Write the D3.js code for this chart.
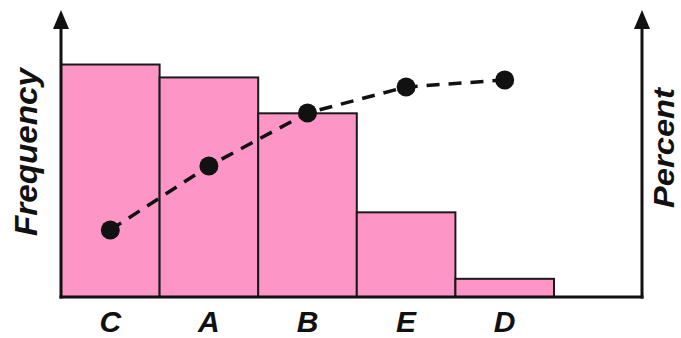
<!DOCTYPE html>
<html>
<head>
<meta charset="utf-8">
<script src="https://cdn.jsdelivr.net/npm/d3@7/dist/d3.min.js"></script>
<style>
  html, body { margin: 0; padding: 0; background: #fff; }
  svg { display: block; }
  text { font-family: "Liberation Sans", Arial, Helvetica, sans-serif; font-weight: bold; font-style: italic; fill: #111; }
</style>
</head>
<body>
<svg id="chart" width="681" height="338"></svg>
<script>
// Data
const categories = ["C", "A", "B", "E", "D"];
const frequency = [48.6, 45.9, 38.4, 17.7, 3.8];
const cumulativePercent = [30.9, 60.4, 84.8, 96.8, 100];
const yAxisLabel = "Frequency";
const y2AxisLabel = "Percent";

(function () {
const svg = d3.select("#chart");
const x0 = 61, x1 = 642, base = 297, yTop = 10;

const x = d3.scaleBand().domain(categories).range([x0, 554]).padding(0);
const yF = d3.scaleLinear().domain([0, 60]).range([base, yTop]);
const yP = d3.scaleLinear().domain([0, 100]).range([base, 80]);

const data = categories.map((c, i) => ({ c, f: frequency[i], p: cumulativePercent[i] }));

// Bars
svg.append("g").selectAll("rect").data(data).join("rect")
  .attr("x", d => x(d.c))
  .attr("y", d => yF(d.f))
  .attr("width", x.bandwidth())
  .attr("height", d => base - yF(d.f))
  .attr("fill", "#fe95c7")
  .attr("stroke", "#1a1a1a")
  .attr("stroke-width", 2);

// Axes lines with arrows
const axisColor = "#111";
svg.append("line").attr("x1", x0).attr("x2", x0).attr("y1", base + 1.5).attr("y2", yTop + 14)
  .attr("stroke", axisColor).attr("stroke-width", 3);
svg.append("line").attr("x1", x1).attr("x2", x1).attr("y1", base + 1.5).attr("y2", yTop + 14)
  .attr("stroke", axisColor).attr("stroke-width", 3);
svg.append("line").attr("x1", x0).attr("x2", x1).attr("y1", base).attr("y2", base)
  .attr("stroke", axisColor).attr("stroke-width", 3).attr("stroke-linecap", "square");
[x0, x1].forEach(ax => {
  svg.append("path")
    .attr("d", `M${ax},${yTop} L${ax - 8},${yTop + 19} L${ax + 8},${yTop + 19} Z`)
    .attr("fill", axisColor);
});

// Category labels via d3 axis
const xAxis = d3.axisBottom(x).tickSize(0).tickPadding(0);
const gx = svg.append("g").attr("transform", `translate(0,${base})`).call(xAxis);
gx.select(".domain").remove();
gx.selectAll("text")
  .attr("y", 34.5).attr("dy", 0)
  .style("font-size", "30px")
  .style("font-family", '"Liberation Sans", Arial, sans-serif')
  .style("font-weight", "bold").style("font-style", "italic")
  .attr("fill", "#111");

// Cumulative percent line
const line = d3.line().x(d => x(d.c) + x.bandwidth() / 2).y(d => yP(d.p));
svg.append("path").datum(data).attr("d", line)
  .attr("fill", "none").attr("stroke", "#111").attr("stroke-width", 3.5)
  .attr("stroke-dasharray", "13,9");
svg.append("g").selectAll("circle").data(data).join("circle")
  .attr("cx", d => x(d.c) + x.bandwidth() / 2)
  .attr("cy", d => yP(d.p))
  .attr("r", 9.5)
  .attr("fill", "#111");

// Axis titles
svg.append("text")
  .attr("transform", `translate(37,152) rotate(-90)`)
  .attr("text-anchor", "middle")
  .attr("textLength", 168).attr("lengthAdjust", "spacingAndGlyphs")
  .style("font-size", "31px")
  .text(yAxisLabel);
svg.append("text")
  .attr("transform", `translate(674,148) rotate(-90)`)
  .attr("text-anchor", "middle")
  .attr("textLength", 120).attr("lengthAdjust", "spacingAndGlyphs")
  .style("font-size", "29px")
  .text(y2AxisLabel);
})();
</script>
</body>
</html>
